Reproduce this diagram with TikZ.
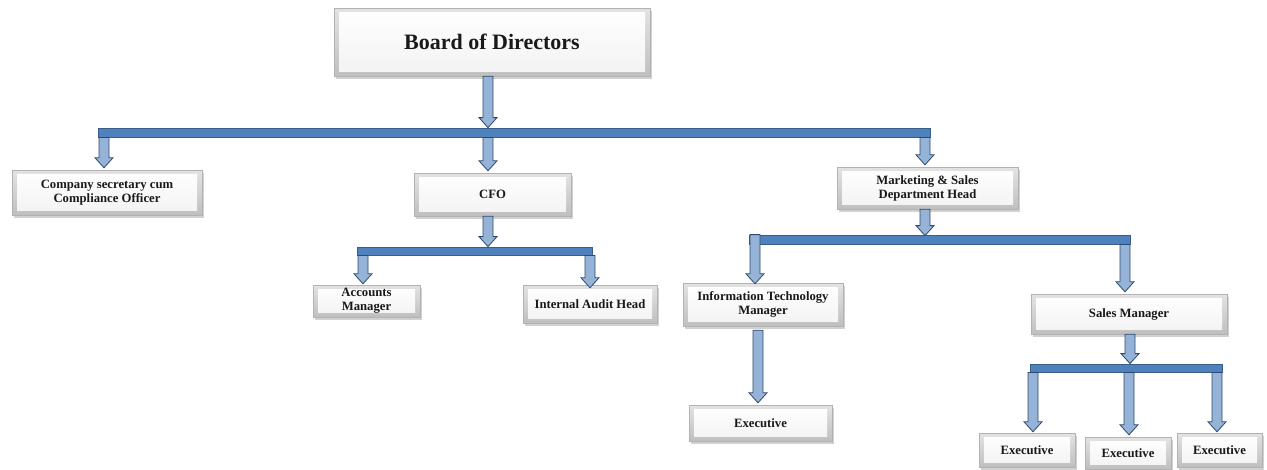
\documentclass[tikz,border=0pt]{standalone}
\usepackage{fontspec}
\setmainfont{Liberation Serif}
\usetikzlibrary{calc,shadows}
\definecolor{barblue}{HTML}{4F81BD}
\definecolor{bardark}{HTML}{385D8A}
\definecolor{arrowfill}{HTML}{95B3D7}
\definecolor{arrowdark}{HTML}{2F4A70}
\tikzset{
  orgbox/.style={rectangle, draw=gray!60, line width=0.4pt, top color=gray!22, bottom color=gray!50,
    drop shadow={shadow xshift=2pt, shadow yshift=-2.5pt, opacity=0.45, fill=gray!80},
    inner sep=0pt, align=center, text=black!90,
    font=\bfseries\fontsize{12.7}{14}\selectfont,
    path picture={\shade[top color=white, bottom color=gray!10]
      ([shift={(5pt,-4pt)}]path picture bounding box.north west) rectangle
      ([shift={(-5pt,5pt)}]path picture bounding box.south east);}},
  hbar/.style={rectangle, fill=barblue, draw=bardark, line width=0.8pt, inner sep=0pt, minimum height=9pt},
  blockarrow/.style={fill=arrowfill, draw=arrowdark, line width=0.8pt, line join=miter}
}
\newcommand{\barrow}[2]{\draw[blockarrow] let \p1=#1, \p2=#2 in
  (\x1-5pt,\y1) -- (\x1-5pt,\y2+10pt) -- (\x1-9pt,\y2+10pt) -- (\x1,\y2) --
  (\x1+9pt,\y2+10pt) -- (\x1+5pt,\y2+10pt) -- (\x1+5pt,\y1) -- cycle;}
\begin{document}
\begin{tikzpicture}[x=1pt,y=-1pt]
\useasboundingbox (0,0) rectangle (1267,469);
\fill[white] (0,0) rectangle (1267,469);
% boxes
\node[orgbox, minimum width=316pt, minimum height=68pt, font=\bfseries\fontsize{22}{26}\selectfont] (board) at (492,42) {Board of Directors};
\node[orgbox, minimum width=190pt, minimum height=45pt] (comp) at (107,192.5) {Company secretary cum\\Compliance Officer};
\node[orgbox, minimum width=157pt, minimum height=43pt] (cfo) at (492.5,194.5) {CFO};
\node[orgbox, minimum width=181pt, minimum height=42pt] (mkt) at (927.5,188) {Marketing \& Sales\\Department Head};
\node[orgbox, minimum width=107pt, minimum height=32pt] (acc) at (366.5,301) {Accounts\\Manager};
\node[orgbox, minimum width=134pt, minimum height=38pt] (aud) at (590,304) {Internal Audit Head};
\node[orgbox, minimum width=160pt, minimum height=43pt] (itm) at (763,304.5) {Information Technology\\Manager};
\node[orgbox, minimum width=196pt, minimum height=40pt] (sal) at (1129,314) {Sales Manager};
\node[orgbox, minimum width=143pt, minimum height=36pt] (ex0) at (760.5,423) {Executive};
\node[orgbox, minimum width=96pt, minimum height=34pt] (ex1) at (1027,450) {Executive};
\node[orgbox, minimum width=86pt, minimum height=32pt] (ex2) at (1128,453) {Executive};
\node[orgbox, minimum width=85pt, minimum height=34pt] (ex3) at (1219.5,450) {Executive};
% bars
\node[hbar, minimum width=832pt] (bar1) at (514,132.5) {};
\node[hbar, minimum width=235pt, minimum height=8pt] (bar2) at (474.5,251) {};
\node[hbar, minimum width=381pt] (bar3) at (939.5,239.5) {};
\node[hbar, minimum width=192pt, minimum height=8pt] (bar4) at (1126,368) {};
% arrows
\barrow{(board.south -| 488,0)}{(bar1.north -| 488,0)}
\barrow{(bar1.south -| 104,0)}{($(comp.north -| 104,0)+(0,-2)$)}
\barrow{(bar1.south -| 488,0)}{($(cfo.north -| 488,0)+(0,-2)$)}
\barrow{(bar1.south -| 925,0)}{($(mkt.north -| 925,0)+(0,-2)$)}
\barrow{(cfo.south -| 488,0)}{(bar2.north -| 488,0)}
\barrow{(bar2.south -| 363,0)}{($(acc.north -| 363,0)+(0,-1)$)}
\barrow{(bar2.south -| 590,0)}{($(aud.north -| 590,0)+(0,3)$)}
\barrow{(mkt.south -| 925,0)}{($(bar3.north -| 925,0)+(0,1)$)}
\barrow{(bar3.north -| 755,0)}{($(itm.north -| 755,0)+(0,1)$)}
\barrow{(bar3.south -| 1125,0)}{($(sal.north -| 1125,0)+(0,-2)$)}
\barrow{($(itm.south -| 758,0)+(0,4)$)}{($(ex0.north -| 758,0)+(0,-2)$)}
\barrow{(sal.south -| 1130,0)}{(bar4.north -| 1130,0)}
\barrow{(bar4.south -| 1033,0)}{($(ex1.north -| 1033,0)+(0,-1)$)}
\barrow{(bar4.south -| 1129,0)}{($(ex2.north -| 1129,0)+(0,-2)$)}
\barrow{(bar4.south -| 1217,0)}{($(ex3.north -| 1217,0)+(0,-1)$)}
\end{tikzpicture}
\end{document}
